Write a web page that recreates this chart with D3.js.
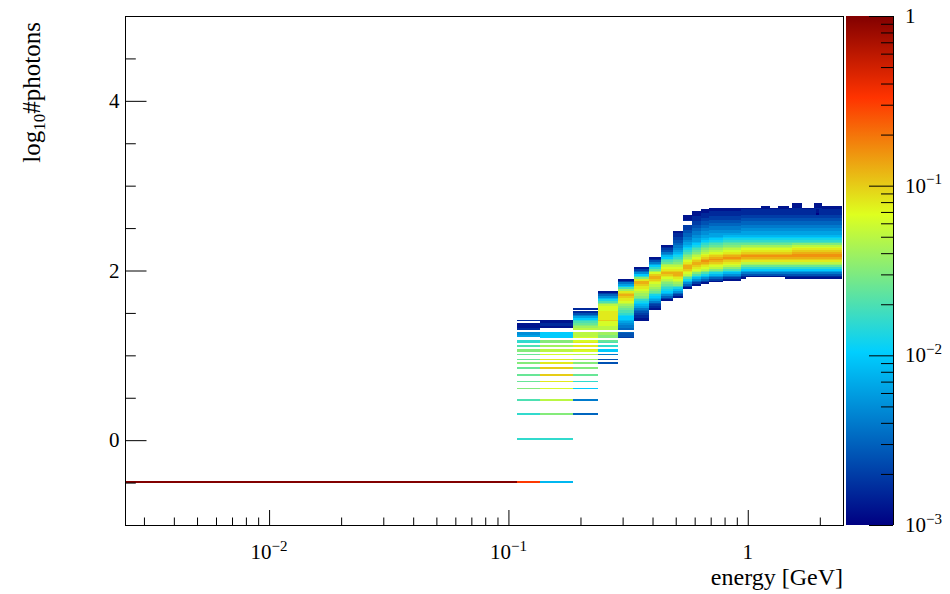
<!DOCTYPE html>
<html>
<head>
<meta charset="utf-8">
<script src="https://cdn.jsdelivr.net/npm/d3@7"></script>
<style>
  body { margin: 0; background: #fff; }
  svg { display: block; }
</style>
</head>
<body>
<svg id="chart" width="950" height="594"></svg>
<script>
// ---- binning -------------------------------------------------------------
// energy bin edges [GeV]
const energyEdges = [0.001, 0.109, 0.136, 0.186, 0.236, 0.286, 0.336, 0.386, 0.436, 0.486,
  0.536, 0.586, 0.636, 0.686, 0.736, 0.786, 0.836, 0.886, 0.936, 0.986,
  1.036, 1.086, 1.136, 1.186, 1.236, 1.286, 1.336, 1.386, 1.436, 1.486,
  1.536, 1.586, 1.636, 1.686, 1.736, 1.786, 1.836, 1.886, 1.936, 1.986,
  2.036, 2.086, 2.136, 2.186, 2.236, 2.286, 2.336, 2.386, 2.436, 2.486];

// log10(#photons) bins: row r covers [yBinMin + r*yBinWidth, yBinMin + (r+1)*yBinWidth)
const yBinMin = -1;
const yBinWidth = 0.02;

// cell contents, one character per row: level k means 10^(-3 + k/10), "." = empty
const levelCodes = "0123456789abcdefghijklmnopqrstu";
const levelLogMin = -3;
const levelLogStep = 0.1;

// per energy bin: list of [first row, level codes going upwards]
const cellSegments = [
  [[25, "u"]],
  [[25, "p"], [50, "c"], [65, "c"], [73, "d"], [80, "f"], [84, "e"], [88, "e"], [92, "e"], [95, "f"], [97, "e"],
   [100, "e"], [102, "ff"], [105, "d"], [107, "cc"], [111, "877"], [115, "2111"], [120, "2"]],
  [[25, "9"], [50, "c"], [65, "f"], [73, "h"], [80, "i"], [84, "j"], [88, "k"], [92, "k"], [95, "j"], [97, "j"],
   [100, "i"], [102, "hh"], [105, "g"], [107, "ff"], [110, "aaaa"], [116, "12211"]],
  [[65, "5"], [73, "6"], [80, "a"], [84, "c"], [88, "e"], [92, "f"], [95, "f"], [97, "g"], [100, "h"],
   [102, "ij"], [105, "j"], [107, "ji"], [110, "ihhh"], [115, "hgfedca8642"], [127, "2"]],
  [[95, "4"], [97, "4"], [100, "6"], [102, "aa"], [105, "c"], [107, "de"], [110, "ffgg"],
   [115, "hhiiikjjjjjiiihfdb97531"]],
  [[110, "3445"], [115, "566789aabcddefghijjklkjgda8631"]],
  [[120, "1122345689abcefgghijjklljfca7531"]],
  [[127, "1234689abdefghhijkllkigeca86421"]],
  [[132, "13579abcdefghijklkjihgedca9764321"]],
  [[134, "13579bdfghijkllkjihgfedcba9876654433221"]],
  [[139, "13579bdfhijkllkjihgfedcba9887665544333"], [179, "2111"]],
  [[141, "13579bdfhijkllkjihgfedcba9887766554433222111"]],
  [[142, "13579bdfhijklmlkjihgfedcba988776655443322211"]],
  [[143, "13579bdfhijklmlkjihgfedcba988776655443322211"]],
  [[143, "13579bdfhijklmlkjihgfedcba988776655443322211"]],
  [[144, "13579bdfhijklmlkjihgfedcba98776655443322211"]],
  [[144, "13579bdfhijklmlkjihgfedcba98776655443322211"]],
  [[144, "13579bdfhijklmlkjihgfedcba98776655443322211"]],
  [[145, "12468aceghjklmlkjihgedcba98877665544332221"]],
  [[146, "1468aceghjklmlkjihgedcba98877665544332221"]],
  [[146, "1468aceghjklmlkjihgedcba98877665544332221"]],
  [[146, "1468aceghjklmlkjihgedcba98877665544332221"]],
  [[146, "1468aceghjklmlkjihgedcba988776655443322211"]],
  [[146, "1468aceghjklmlkjihgedcba988776655443322211"]],
  [[146, "1468aceghjklmlkjihgedcba98877665544332221"]],
  [[146, "1468aceghjklmlkjihgedcba98877665544332221"]],
  [[146, "1468aceghjklmlkjihgedcba988776655443322211"]],
  [[146, "1468aceghjklmlkjihgedcba988776655443322211"]],
  [[145, "12468aceghjklmlkjihgedcba988776655443322211"]],
  [[145, "12468aceghjklmlkjihgedcba98877665544332221"]],
  [[145, "12468aceghjklmmlkjihfdcba98877665544332222111"]],
  [[145, "12468aceghjklmmlkjihfdcba98877665544332222111"]],
  [[145, "12468aceghjklmmlkjihfdcba98877665544332222111"]],
  [[145, "12468aceghjklmmlkjihfdcba98877665544332221"]],
  [[145, "12468aceghjklmmlkjihfdcba98877665544332221"]],
  [[145, "12468aceghjklmmlkjihfdcba98877665544332221"]],
  [[145, "12468aceghjklmmlkjihfdcba98877665544332221"]],
  [[145, "12468aceghjklmmlkjihfdcba98877665544332222111"]],
  [[145, "12468aceghjklmmlkjihfdcba98877665544330112111"]],
  [[145, "12468aceghjklmmlkjihfdcba98877665544332222111"]],
  [[145, "12468aceghjklmmlkjihfdcba988776655443322211"]],
  [[145, "12468aceghjklmmlkjihfdcba988776655443322211"]],
  [[145, "12468aceghjklmmlkjihfdcba988776655443322211"]],
  [[145, "12468aceghjklmmlkjihfdcba988776655443322211"]],
  [[145, "12468aceghjklmmlkjihfdcba988776655443322211"]],
  [[145, "12468aceghjklmmlkjihfdcba988776655443322211"]],
  [[145, "12468aceghjklmmlkjihfdcba988776655443322211"]],
  [[145, "12468aceghjklmmlkjihfdcba988776655443322211"]],
  [[145, "12468aceghjklmmlkjihfdcba988776655443322211"]]
];

// ---- axes content ---------------------------------------------------------
const xDomain = [0.0025, 2.5];
const yDomain = [-1, 5];
const zDomain = [1e-3, 1];
const xMajorTicks = [0.01, 0.1, 1];
const xMinorTicks = [0.003, 0.004, 0.005, 0.006, 0.007, 0.008, 0.009,
  0.02, 0.03, 0.04, 0.05, 0.06, 0.07, 0.08, 0.09,
  0.2, 0.3, 0.4, 0.5, 0.6, 0.7, 0.8, 0.9, 2];
const xTickLabels = [["10", "\u22122"], ["10", "\u22121"], ["1", ""]];
const yMajorTicks = [0, 2, 4];
const yMinorTicks = [-0.5, 0.5, 1, 1.5, 2.5, 3, 3.5, 4.5];
const yTickLabels = ["0", "2", "4"];
const zMajorTicks = [1, 0.1, 0.01, 0.001];
const zMinorTicks = [0.9, 0.8, 0.7, 0.6, 0.5, 0.4, 0.3, 0.2,
  0.09, 0.08, 0.07, 0.06, 0.05, 0.04, 0.03, 0.02,
  0.009, 0.008, 0.007, 0.006, 0.005, 0.004, 0.003, 0.002];
const zTickLabels = [["1", ""], ["10", "\u22121"], ["10", "\u22122"], ["10", "\u22123"]];
const xTitle = "energy [GeV]";
const yTitleParts = ["log", "10", "#photons"];

// colour palette (stops along the log z range)
const paletteStops = [0.00, 0.34, 0.61, 0.84, 1.00];
const paletteRed   = [0.00, 0.00, 0.87, 1.00, 0.51];
const paletteGreen = [0.00, 0.81, 1.00, 0.20, 0.00];
const paletteBlue  = [0.51, 1.00, 0.12, 0.00, 0.00];

// ---- layout ---------------------------------------------------------------
const frame = { left: 125, right: 843, top: 16, bottom: 525 };
const bar = { left: 846, right: 893 };
const serif = "'Liberation Serif', 'Times New Roman', Times, serif";

const svg = d3.select("#chart");
svg.append("rect").attr("width", 950).attr("height", 594).attr("fill", "#fff");

const x = d3.scaleLog().domain(xDomain).range([frame.left, frame.right]);
const y = d3.scaleLinear().domain(yDomain).range([frame.bottom, frame.top]);
const z = d3.scaleLog().domain(zDomain).range([frame.bottom, frame.top]);
const zFrac = d3.scaleLog().domain(zDomain).range([0, 1]).clamp(true);
const paletteColor = i => d3.rgb(paletteRed[i] * 255, paletteGreen[i] * 255, paletteBlue[i] * 255).toString();
const palette = d3.scaleLinear()
  .domain(paletteStops)
  .range(paletteStops.map((_, i) => paletteColor(i)))
  .interpolate(d3.interpolateRgb)
  .clamp(true);

// ---- cells ----------------------------------------------------------------
const cells = [];
cellSegments.forEach((segments, j) => {
  segments.forEach(([row0, codes]) => {
    for (let k = 0; k < codes.length; k++) {
      const ch = codes[k];
      if (ch === ".") continue;
      const level = levelCodes.indexOf(ch);
      cells.push({
        e0: energyEdges[j],
        e1: energyEdges[j + 1],
        y0: yBinMin + (row0 + k) * yBinWidth,
        y1: yBinMin + (row0 + k + 1) * yBinWidth,
        value: Math.pow(10, levelLogMin + level * levelLogStep)
      });
    }
  });
});

const defs = svg.append("defs");
defs.append("clipPath").attr("id", "frameClip")
  .append("rect")
  .attr("x", frame.left).attr("y", frame.top)
  .attr("width", frame.right - frame.left).attr("height", frame.bottom - frame.top);

svg.append("g")
  .attr("clip-path", "url(#frameClip)")
  .selectAll("rect")
  .data(cells)
  .join("rect")
  .attr("x", d => x(d.e0))
  .attr("width", d => x(d.e1) - x(d.e0))
  .attr("y", d => y(d.y1))
  .attr("height", d => y(d.y0) - y(d.y1))
  .attr("fill", d => palette(zFrac(d.value)))
  .attr("shape-rendering", "crispEdges");

// ---- frame and axes -------------------------------------------------------
function styleAxis(g) {
  g.select(".domain").remove();
  g.selectAll("line").attr("stroke", "#000").attr("stroke-width", 1);
}

svg.append("g").attr("transform", `translate(0,${frame.bottom})`)
  .call(d3.axisTop(x).tickValues(xMajorTicks).tickSize(15).tickFormat(""))
  .call(styleAxis);
svg.append("g").attr("transform", `translate(0,${frame.bottom})`)
  .call(d3.axisTop(x).tickValues(xMinorTicks).tickSize(7.5).tickFormat(""))
  .call(styleAxis);

svg.append("g").attr("transform", `translate(${frame.left},0)`)
  .call(d3.axisRight(y).tickValues(yMajorTicks).tickSize(21.5).tickFormat(""))
  .call(styleAxis);
svg.append("g").attr("transform", `translate(${frame.left},0)`)
  .call(d3.axisRight(y).tickValues(yMinorTicks).tickSize(10.8).tickFormat(""))
  .call(styleAxis);

svg.append("rect")
  .attr("x", frame.left + 0.5).attr("y", frame.top + 0.5)
  .attr("width", frame.right - frame.left).attr("height", frame.bottom - frame.top)
  .attr("fill", "none").attr("stroke", "#000").attr("stroke-width", 1);

function powerLabel(parent, px, py, base, exp, anchor) {
  const t = parent.append("text")
    .attr("x", px).attr("y", py)
    .attr("text-anchor", anchor)
    .attr("font-family", serif).attr("font-size", 21).attr("fill", "#000");
  t.append("tspan").text(base);
  if (exp) t.append("tspan").attr("dy", -8.5).attr("font-size", 15).text(exp);
  return t;
}

const labels = svg.append("g");
xMajorTicks.forEach((v, i) => powerLabel(labels, x(v), 559, xTickLabels[i][0], xTickLabels[i][1], "middle"));
yMajorTicks.forEach((v, i) => powerLabel(labels, 119.5, y(v) + 7, yTickLabels[i], "", "end"));

labels.append("text")
  .attr("x", frame.right).attr("y", 585)
  .attr("text-anchor", "end")
  .attr("font-family", serif).attr("font-size", 24).attr("fill", "#000")
  .text(xTitle);

const yTitle = labels.append("text")
  .attr("transform", `translate(40,22) rotate(-90)`)
  .attr("text-anchor", "end")
  .attr("font-family", serif).attr("font-size", 25).attr("fill", "#000");
yTitle.append("tspan").text(yTitleParts[0]);
yTitle.append("tspan").attr("dy", 5).attr("font-size", 17).text(yTitleParts[1]);
yTitle.append("tspan").attr("dy", -5).text(yTitleParts[2]);

// ---- colour bar -----------------------------------------------------------
const grad = defs.append("linearGradient")
  .attr("id", "paletteGrad").attr("x1", 0).attr("y1", 1).attr("x2", 0).attr("y2", 0);
paletteStops.forEach((s, i) => {
  grad.append("stop").attr("offset", s).attr("stop-color", paletteColor(i));
});
svg.append("rect")
  .attr("x", bar.left).attr("y", frame.top)
  .attr("width", bar.right - bar.left).attr("height", frame.bottom - frame.top)
  .attr("fill", "url(#paletteGrad)");

svg.append("g").attr("transform", `translate(${bar.right},0)`)
  .call(d3.axisLeft(z).tickValues(zMajorTicks).tickSize(24).tickFormat(""))
  .call(styleAxis);
svg.append("g").attr("transform", `translate(${bar.right},0)`)
  .call(d3.axisLeft(z).tickValues(zMinorTicks).tickSize(12).tickFormat(""))
  .call(styleAxis);
svg.append("line")
  .attr("x1", bar.right + 0.5).attr("x2", bar.right + 0.5)
  .attr("y1", frame.top).attr("y2", frame.bottom)
  .attr("stroke", "#000");

zMajorTicks.forEach((v, i) => powerLabel(labels, 905, z(v) + 7, zTickLabels[i][0], zTickLabels[i][1], "start"));
</script>
</body>
</html>
